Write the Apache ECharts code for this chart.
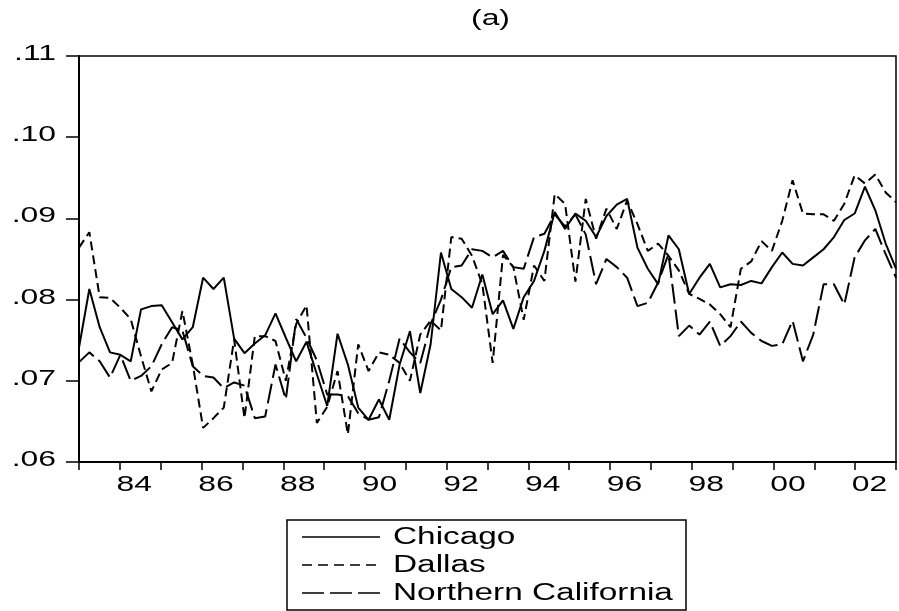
<!DOCTYPE html>
<html>
<head>
<meta charset="utf-8">
<script src="https://cdn.jsdelivr.net/npm/echarts@6/dist/echarts.min.js"></script>
<style>
    html, body { margin: 0; padding: 0; background: #fff; }
    #chart { width: 899px; height: 611px; }
</style>
</head>
<body>
<div id="chart"></div>
<script>
// quarterly data 1983Q1 - 2002Q4, one band per year on the x axis
const years = ['83', '84', '85', '86', '87', '88', '89', '90', '91', '92',
    '93', '94', '95', '96', '97', '98', '99', '00', '01', '02'];
const yTicks = [0.06, 0.07, 0.08, 0.09, 0.10, 0.11];
const yTickLabels = ['.06', '.07', '.08', '.09', '.10', '.11'];
const seriesNames = ['Chicago', 'Dallas', 'Northern California'];

const chicago = [
    .0741, .0813, .0766, .0735, .0732, .0724, .0788, .0792, .0793, .0772,
    .0751, .0766, .0827, .0813, .0827, .0752, .0734, .0746, .0756, .0783,
    .0753, .0724, .0748, .0708, .0669, .0758, .0720, .0667, .0652, .0677,
    .0652, .0720, .0761, .0685, .0745, .0858, .0813, .0803, .0790, .0831,
    .0782, .0799, .0764, .0803, .0823, .0860, .0908, .0887, .0906, .0897,
    .0877, .0903, .0917, .0924, .0864, .0838, .0819, .0879, .0862, .0807,
    .0827, .0844, .0815, .0819, .0818, .0823, .0820, .0840, .0858, .0844,
    .0842, .0852, .0862, .0877, .0898, .0906, .0939, .0910, .0869, .0838
];

const dallas = [
    .0864, .0883, .0803, .0802, .0790, .0776, .0730, .0687, .0714, .0722,
    .0786, .0720, .0642, .0654, .0667, .0751, .0654, .0755, .0755, .0749,
    .0700, .0770, .0793, .0648, .0668, .0712, .0634, .0745, .0712, .0735,
    .0732, .0722, .0700, .0757, .0774, .0762, .0877, .0875, .0854, .0819,
    .0722, .0855, .0840, .0775, .0842, .0823, .0930, .0918, .0822, .0924,
    .0875, .0912, .0887, .0922, .0893, .0860, .0869, .0854, .0836, .0807,
    .0801, .0794, .0782, .0766, .0838, .0847, .0872, .0860, .0897, .0947,
    .0906, .0905, .0905, .0897, .0918, .0953, .0943, .0954, .0932, .0920
];

const norCal = [
    .0723, .0735, .0724, .0704, .0732, .0700, .0706, .0718, .0745, .0766,
    .0762, .0718, .0706, .0704, .0691, .0698, .0694, .0654, .0656, .0720,
    .0677, .0776, .0753, .0725, .0683, .0683, .0681, .0660, .0652, .0655,
    .0700, .0752, .0735, .0722, .0770, .0800, .0840, .0842, .0862, .0860,
    .0852, .0860, .0840, .0838, .0877, .0881, .0905, .0890, .0905, .0880,
    .0819, .0850, .0840, .0827, .0792, .0796, .0821, .0856, .0755, .0768,
    .0757, .0773, .0743, .0755, .0773, .0759, .0749, .0743, .0745, .0774,
    .0724, .0757, .0819, .0819, .0794, .0852, .0873, .0887, .0856, .0827
];

function toPoints(arr) {
    return arr.map(function (v, i) { return [i, v]; });
}

const myChart = echarts.init(document.getElementById('chart'));
const fontFamily = '"Liberation Sans", Arial, sans-serif';
const axisFont = '22px ' + fontFamily;
const legendFont = '23px ' + fontFamily;
const stretch = 1.45; // the original graph text is widened
const dashes = [null, [9, 5], [20, 6]];

const option = {
    animation: false,
    backgroundColor: '#fff',
    grid: {
        left: 79,
        right: 3,
        top: 56,
        bottom: 149,
        show: true,
        borderColor: '#000',
        borderWidth: 1.5
    },
    xAxis: [
        {
            type: 'category',
            data: years,
            boundaryGap: true,
            axisLine: { lineStyle: { color: '#000', width: 2 } },
            axisTick: { show: true, length: 8, lineStyle: { color: '#000', width: 1.5 } },
            axisLabel: { show: false },
            splitLine: { show: false }
        },
        {
            type: 'value',
            min: 0,
            max: 79,
            show: false
        }
    ],
    yAxis: {
        type: 'value',
        min: 0.06,
        max: 0.11,
        interval: 0.01,
        axisLine: { show: true, lineStyle: { color: '#000', width: 2 } },
        axisTick: { show: true, length: 13, lineStyle: { color: '#000', width: 1.5 } },
        axisLabel: { show: false },
        splitLine: { show: false }
    },
    series: [chicago, dallas, norCal].map(function (arr, k) {
        return {
            name: seriesNames[k],
            type: 'line',
            xAxisIndex: 1,
            showSymbol: false,
            symbol: 'none',
            lineStyle: { color: '#000', width: 2, type: dashes[k] || 'solid' },
            data: toPoints(arr)
        };
    })
};

myChart.setOption(option);

// texts, widened like the original, placed through the chart's own scales
const g = [];
const plotCenter = (79 + 896) / 2;
g.push({
    type: 'text', x: plotCenter + 3, y: 19, scaleX: stretch,
    style: { text: '(a)', font: axisFont, fill: '#000', align: 'center', verticalAlign: 'middle' }
});
yTicks.forEach(function (v, k) {
    const py = myChart.convertToPixel({ yAxisIndex: 0 }, v);
    g.push({
        type: 'text', x: 56, y: py - 2, scaleX: stretch,
        style: { text: yTickLabels[k], font: axisFont, fill: '#000', align: 'right', verticalAlign: 'middle' }
    });
});
years.forEach(function (yr, idx) {
    if (idx % 2 !== 1) return;
    const px = myChart.convertToPixel({ xAxisIndex: 0 }, idx);
    g.push({
        type: 'text', x: px - 6, y: 485, scaleX: stretch,
        style: { text: yr, font: axisFont, fill: '#000', align: 'center', verticalAlign: 'middle' }
    });
});

// legend box
g.push({
    type: 'rect',
    shape: { x: 287, y: 520, width: 399, height: 90 },
    style: { fill: 'none', stroke: '#000', lineWidth: 1.5 }
});
const legendDash = [null, [10, 6], [22, 6]];
seriesNames.forEach(function (name, k) {
    const ry = 537 + k * 28;
    g.push({
        type: 'line',
        shape: { x1: 302, y1: ry, x2: 380, y2: ry },
        style: { stroke: '#000', lineWidth: 1.5, lineDash: legendDash[k] }
    });
    g.push({
        type: 'text', x: 393, y: ry + 1, scaleX: stretch,
        style: { text: name, font: legendFont, fill: '#000', align: 'left', verticalAlign: 'middle' }
    });
});

myChart.setOption({ graphic: g });
</script>
</body>
</html>
